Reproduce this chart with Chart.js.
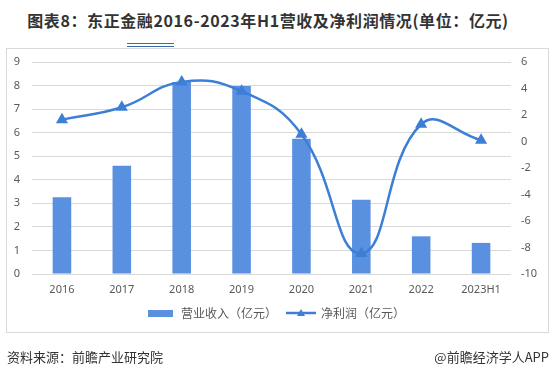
<!DOCTYPE html>
<html lang="zh">
<head>
<meta charset="UTF-8">
<title>东正金融营收及净利润</title>
<script src="https://cdn.jsdelivr.net/npm/chart.js@4/dist/chart.umd.min.js"></script>
<style>
  body { margin: 0; background: #fff; font-family: "Noto Sans CJK SC", "Noto Sans", sans-serif; }
  #page { position: relative; width: 552px; height: 377px; overflow: hidden; }
  #title { position: absolute; left: 0; top: 10px; width: 536px; text-align: center; font-size: 16px; font-weight: bold; color: #333; line-height: 20px; letter-spacing: 0.6px; }
  .deco { position: absolute; left: 127px; width: 47px; height: 1px; background: #3b6aa8; }
  #frame { position: absolute; left: 6px; top: 48px; width: 543px; height: 285px; border: 1px solid #d9d9d9; box-sizing: border-box; }
  #wykres { position: absolute; left: 0; top: 0; }
  .foot { position: absolute; top: 348px; font-size: 13px; color: #333; line-height: 18px; }
</style>
</head>
<body>
<div id="page">
  <div id="title">图表8：东正金融2016-2023年H1营收及净利润情况(单位：亿元)</div>
  <div class="deco" style="top:43px"></div>
  <div class="deco" style="top:46px"></div>
  <div id="frame"></div>
  <canvas id="wykres" width="552" height="377"></canvas>
  <div class="foot" style="left:7px">资料来源：前瞻产业研究院</div>
  <div class="foot" style="right:3px">@前瞻经济学人APP</div>
</div>
<script>
    const lata = ["2016", "2017", "2018", "2019", "2020", "2021", "2022", "2023H1"];
    const przychody = [3.26, 4.6, 8.15, 7.98, 5.74, 3.15, 1.6, 1.32];
    const zysk = [1.65, 2.58, 4.5, 3.8, 0.55, -8.45, 1.3, 0.1];
    const lewaOs = { min: 0, max: 9, step: 1 };
    const prawaOs = { min: -10, max: 6, step: 2 };

    const kolorSlupka = "#5a90e0";
    const kolorLinii = "#3d7fd6";

    // ikonki do legendy
    function ikonaSlupka() {
        const c = document.createElement("canvas");
        c.width = 25; c.height = 7;
        const g = c.getContext("2d");
        g.fillStyle = kolorSlupka;
        g.fillRect(0, 0, 25, 7);
        return c;
    }
    function ikonaLinii() {
        const c = document.createElement("canvas");
        c.width = 30; c.height = 10;
        const g = c.getContext("2d");
        g.strokeStyle = kolorLinii;
        g.lineWidth = 2.5;
        g.beginPath(); g.moveTo(0, 5); g.lineTo(30, 5); g.stroke();
        g.fillStyle = kolorLinii;
        g.beginPath(); g.moveTo(15, 1); g.lineTo(19, 8); g.lineTo(11, 8); g.closePath(); g.fill();
        return c;
    }
    const ikony = [ikonaSlupka(), ikonaLinii()];

    const dane = {
        labels: lata,
        datasets: [
            {
                type: "bar",
                label: "营业收入（亿元）",
                data: przychody,
                backgroundColor: kolorSlupka,
                yAxisID: "y",
                categoryPercentage: 1,
                barPercentage: 0.31,
                order: 2
            },
            {
                type: "line",
                label: "净利润（亿元）",
                data: zysk,
                borderColor: kolorLinii,
                backgroundColor: kolorLinii,
                borderWidth: 2.5,
                tension: 0.45,
                pointStyle: "triangle",
                pointRadius: 4.5,
                pointBackgroundColor: kolorLinii,
                pointBorderColor: kolorLinii,
                yAxisID: "y1",
                order: 1
            }
        ]
    };

    const tickFont = { family: "'Noto Sans', 'DejaVu Sans', sans-serif", size: 11 };

    const ctx = document.getElementById("wykres").getContext("2d");
    const wykres = new Chart(ctx, {
        data: dane,
        options: {
            responsive: false,
            animation: false,
            layout: { padding: { left: 0, right: 0, top: 62, bottom: 48 } },
            plugins: {
                tooltip: { enabled: false },
                legend: {
                    position: "bottom",
                    labels: {
                        usePointStyle: true,
                        pointStyleWidth: 28,
                        padding: 10,
                        color: "#595959",
                        font: { family: "'Noto Sans CJK SC', sans-serif", size: 12 },
                        generateLabels: function (chart) {
                            return chart.data.datasets.map(function (ds, i) {
                                return {
                                    text: ds.label,
                                    pointStyle: ikony[i],
                                    fillStyle: kolorSlupka,
                                    strokeStyle: kolorSlupka,
                                    lineWidth: 0,
                                    fontColor: "#595959",
                                    datasetIndex: i,
                                    hidden: false
                                };
                            });
                        }
                    }
                }
            },
            scales: {
                x: {
                    grid: { display: false, drawTicks: false },
                    border: { display: false },
                    ticks: { color: "#595959", font: tickFont, padding: 9 },
                    afterFit: function (s) { s.height = 23; }
                },
                y: {
                    position: "left",
                    min: lewaOs.min,
                    max: lewaOs.max,
                    ticks: { stepSize: lewaOs.step, color: "#595959", font: tickFont, padding: 12 },
                    grid: { color: "#d9d9d9", drawTicks: false },
                    border: { display: false },
                    afterFit: function (s) { s.width = 32; }
                },
                y1: {
                    position: "right",
                    min: prawaOs.min,
                    max: prawaOs.max,
                    ticks: { stepSize: prawaOs.step, color: "#595959", font: tickFont, padding: 10 },
                    grid: { display: false, drawTicks: false },
                    border: { display: false },
                    afterFit: function (s) { s.width = 41; }
                }
            }
        }
    });
</script>
</body>
</html>
